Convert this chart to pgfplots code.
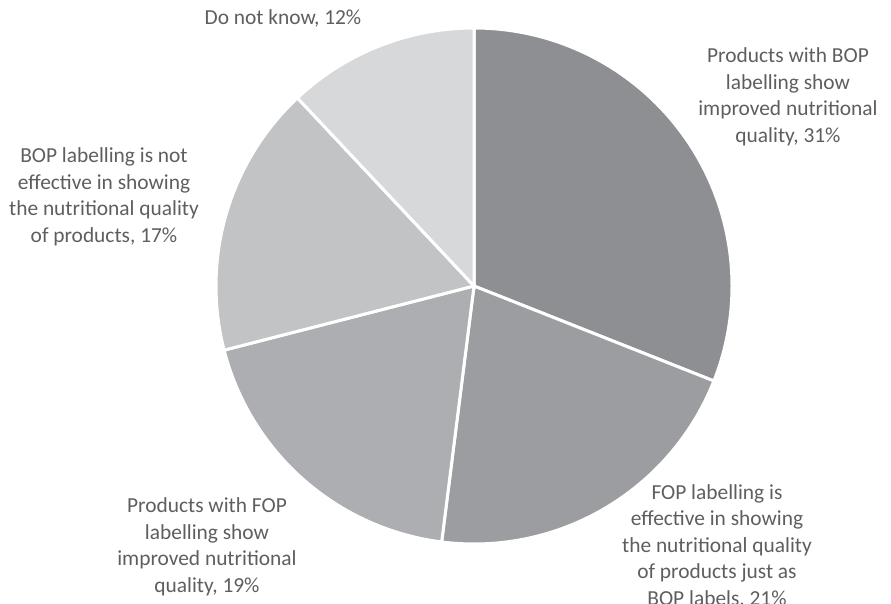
\documentclass[border=0pt]{standalone}
\usepackage{pgfplots}
\pgfplotsset{compat=1.18}
\usepackage{fontspec}
\setmainfont{Carlito}
\definecolor{s1}{HTML}{8E8F93}
\definecolor{s2}{HTML}{9C9DA0}
\definecolor{s3}{HTML}{ADAEB1}
\definecolor{s4}{HTML}{C2C3C5}
\definecolor{s5}{HTML}{D7D8DA}
\definecolor{txt}{HTML}{5E5E5E}
\begin{document}
\begin{tikzpicture}
\useasboundingbox (0,0) rectangle (891pt,604pt);
\begin{axis}[at={(0,0)}, anchor=south west, scale only axis,
  width=891pt, height=604pt, xmin=0, xmax=891, ymin=0, ymax=604,
  hide axis, clip=false]
% shares in percent: 31, 21, 19, 17, 12 (clockwise from 12 o'clock)
\def\cx{474}\def\cy{318}\def\R{258}
\addplot[fill=s1, draw=white, line width=3pt, domain={90-3.6*31}:90, samples=120]
  ({\cx+\R*cos(x)},{\cy+\R*sin(x)}) -- (axis cs:\cx,\cy) -- cycle;
\addplot[fill=s2, draw=white, line width=3pt, domain={90-3.6*52}:{90-3.6*31}, samples=120]
  ({\cx+\R*cos(x)},{\cy+\R*sin(x)}) -- (axis cs:\cx,\cy) -- cycle;
\addplot[fill=s3, draw=white, line width=3pt, domain={90-3.6*71}:{90-3.6*52}, samples=120]
  ({\cx+\R*cos(x)},{\cy+\R*sin(x)}) -- (axis cs:\cx,\cy) -- cycle;
\addplot[fill=s4, draw=white, line width=3pt, domain={90-3.6*88}:{90-3.6*71}, samples=120]
  ({\cx+\R*cos(x)},{\cy+\R*sin(x)}) -- (axis cs:\cx,\cy) -- cycle;
\addplot[fill=s5, draw=white, line width=3pt, domain={90-3.6*100}:{90-3.6*88}, samples=120]
  ({\cx+\R*cos(x)},{\cy+\R*sin(x)}) -- (axis cs:\cx,\cy) -- cycle;
\tikzset{lbl/.style={text=txt, align=center, font=\fontsize{21.4}{26.5}\selectfont, inner sep=0pt}}
\node[lbl] at (axis cs:283,586) {Do not know, 12\%};
\node[lbl] at (axis cs:788,507) {Products with BOP\\labelling show\\improved nutritional\\quality, 31\%};
\node[lbl] at (axis cs:104,407) {BOP labelling is not\\effective in showing\\the nutritional quality\\of products, 17\%};
\node[lbl] at (axis cs:207,57) {Products with FOP\\labelling show\\improved nutritional\\quality, 19\%};
\node[lbl] at (axis cs:717,58) {FOP labelling is\\effective in showing\\the nutritional quality\\of products just as\\BOP labels, 21\%};
\end{axis}
\end{tikzpicture}
\end{document}
